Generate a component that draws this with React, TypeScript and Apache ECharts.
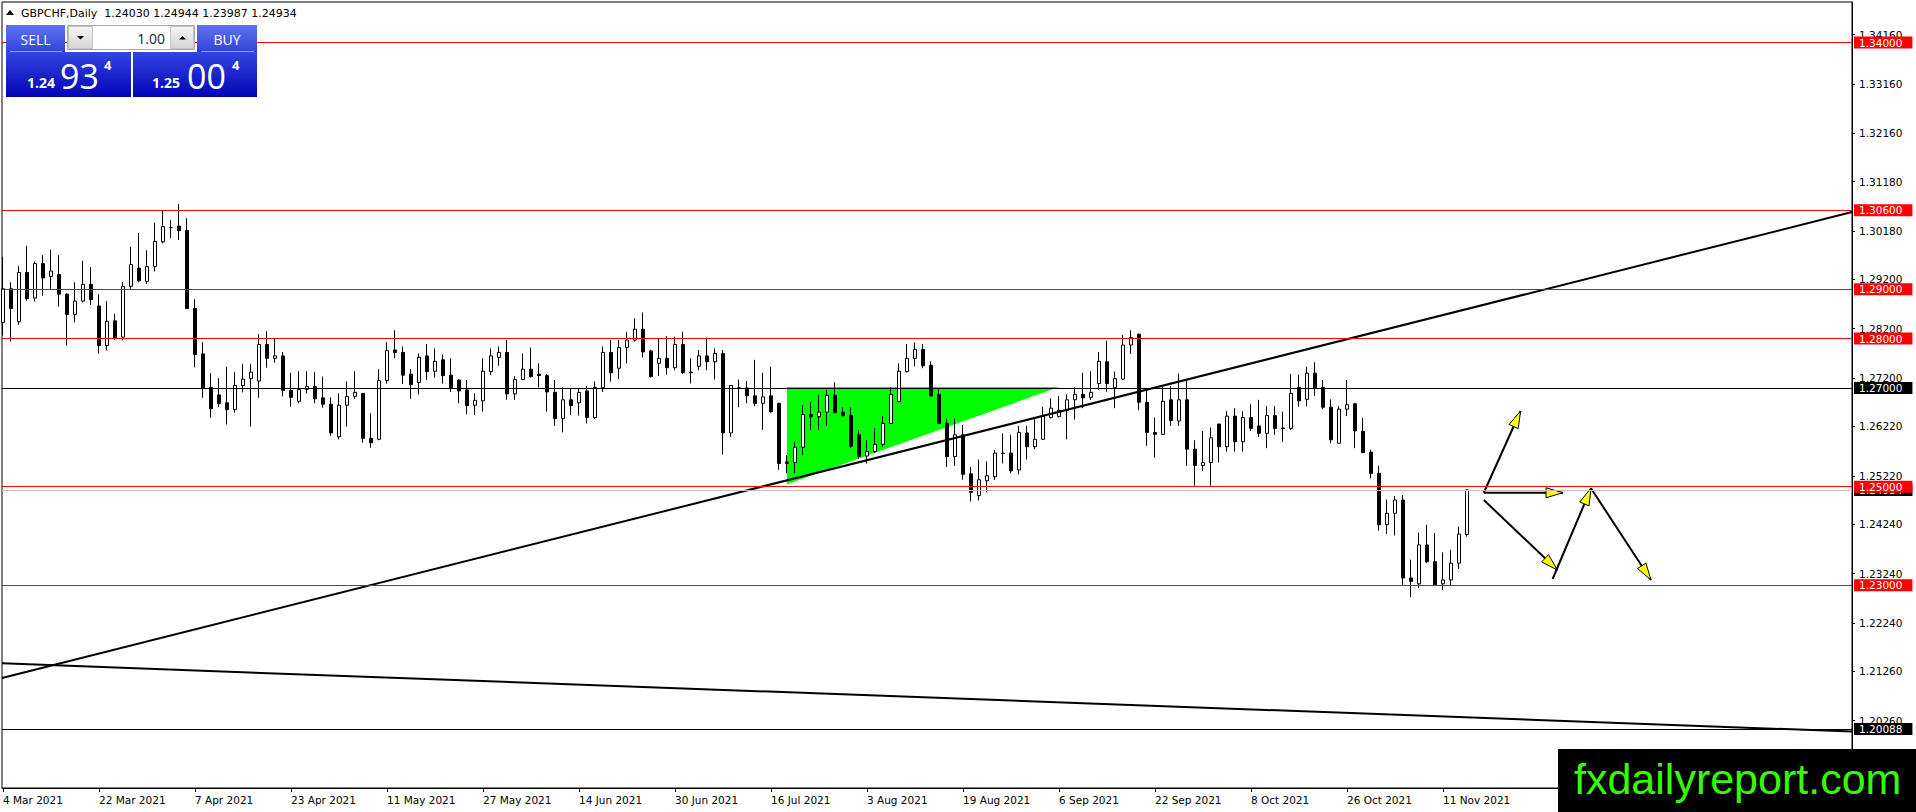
import React, { useEffect, useRef } from "react";
import * as echarts from "echarts";

// ---- candle values (bar 0 = 4 Mar 2021, one bar per trading day) ----
const OPEN = [
  1.2833, 1.2901, 1.2834, 1.2934, 1.2882, 1.2952, 1.2926, 1.2930, 1.2890, 1.2849,
  1.2876, 1.2910, 1.2866, 1.2786, 1.2836, 1.2803, 1.2906, 1.2943, 1.2916, 1.2946,
  1.2996, 1.3025, 1.3028, 1.3019, 1.2861, 1.2769, 1.2701, 1.2686, 1.2670, 1.2656,
  1.2705, 1.2719, 1.2714, 1.2788, 1.2760, 1.2765, 1.2695, 1.2673, 1.2697, 1.2703,
  1.2680, 1.2667, 1.2601, 1.2665, 1.2683, 1.2689, 1.2598, 1.2596, 1.2715, 1.2777,
  1.2772, 1.2728, 1.2711, 1.2765, 1.2734, 1.2757, 1.2726, 1.2716, 1.2696, 1.2665,
  1.2674, 1.2733, 1.2762, 1.2772, 1.2688, 1.2717, 1.2738, 1.2728, 1.2725, 1.2691,
  1.2638, 1.2676, 1.2670, 1.2694, 1.2640, 1.2701, 1.2772, 1.2740, 1.2782, 1.2797,
  1.2819, 1.2775, 1.2750, 1.2760, 1.2741, 1.2788, 1.2732, 1.2744, 1.2765, 1.2753,
  1.2770, 1.2609, 1.2700, 1.2700, 1.2684, 1.2669, 1.2684, 1.2669, 1.2550, 1.2549,
  1.2580, 1.2646, 1.2642, 1.2651, 1.2685, 1.2651, 1.2644, 1.2605, 1.2562, 1.2571,
  1.2586, 1.2628, 1.2672, 1.2733, 1.2760, 1.2778, 1.2746, 1.2687, 1.2628, 1.2561,
  1.2605, 1.2526, 1.2482, 1.2512, 1.2520, 1.2568, 1.2568, 1.2534, 1.2609, 1.2581,
  1.2596, 1.2640, 1.2642, 1.2655, 1.2676, 1.2687, 1.2681, 1.2709, 1.2753, 1.2701,
  1.2718, 1.2787, 1.2809, 1.2671, 1.2610, 1.2606, 1.2676, 1.2633, 1.2676, 1.2576,
  1.2543, 1.2549, 1.2627, 1.2581, 1.2643, 1.2591, 1.2640, 1.2623, 1.2608, 1.2644,
  1.2619, 1.2618, 1.2701, 1.2677, 1.2730, 1.2701, 1.2661, 1.2588, 1.2657, 1.2668,
  1.2612, 1.2570, 1.2527, 1.2423, 1.2446, 1.2473, 1.2315, 1.2303, 1.2382, 1.2348,
  1.2303, 1.2311, 1.2345, 1.2403,
];
const CLOSE = [
  1.2901, 1.2861, 1.2934, 1.2881, 1.2952, 1.2923, 1.2937, 1.2890, 1.2849, 1.2876,
  1.2910, 1.2879, 1.2786, 1.2835, 1.2802, 1.2906, 1.2950, 1.2917, 1.2946, 1.2997,
  1.3027, 1.3025, 1.3019, 1.2861, 1.2768, 1.2699, 1.2658, 1.2668, 1.2656, 1.2705,
  1.2718, 1.2732, 1.2788, 1.2760, 1.2765, 1.2695, 1.2681, 1.2697, 1.2703, 1.2678,
  1.2667, 1.2609, 1.2665, 1.2683, 1.2691, 1.2598, 1.2589, 1.2715, 1.2776, 1.2772,
  1.2726, 1.2707, 1.2762, 1.2733, 1.2754, 1.2725, 1.2701, 1.2694, 1.2664, 1.2675,
  1.2734, 1.2765, 1.2772, 1.2688, 1.2717, 1.2738, 1.2723, 1.2725, 1.2692, 1.2638,
  1.2676, 1.2664, 1.2691, 1.2640, 1.2701, 1.2772, 1.2731, 1.2782, 1.2797, 1.2819,
  1.2773, 1.2723, 1.2760, 1.2741, 1.2788, 1.2731, 1.2731, 1.2765, 1.2753, 1.2770,
  1.2609, 1.2705, 1.2700, 1.2684, 1.2669, 1.2682, 1.2652, 1.2547, 1.2547, 1.2580,
  1.2646, 1.2642, 1.2651, 1.2685, 1.2650, 1.2644, 1.2582, 1.2561, 1.2571, 1.2586,
  1.2628, 1.2687, 1.2734, 1.2760, 1.2778, 1.2745, 1.2684, 1.2628, 1.2561, 1.2605,
  1.2525, 1.2488, 1.2514, 1.2522, 1.2568, 1.2567, 1.2532, 1.2610, 1.2581, 1.2596,
  1.2642, 1.2659, 1.2655, 1.2676, 1.2687, 1.2680, 1.2691, 1.2754, 1.2709, 1.2719,
  1.2787, 1.2802, 1.2671, 1.2610, 1.2606, 1.2673, 1.2634, 1.2676, 1.2576, 1.2543,
  1.2549, 1.2599, 1.2581, 1.2643, 1.2591, 1.2640, 1.2618, 1.2608, 1.2644, 1.2618,
  1.2618, 1.2689, 1.2674, 1.2730, 1.2699, 1.2661, 1.2595, 1.2657, 1.2666, 1.2613,
  1.2569, 1.2527, 1.2423, 1.2446, 1.2473, 1.2315, 1.2308, 1.2382, 1.2348, 1.2301,
  1.2311, 1.2345, 1.2404, 1.24934,
];
const LOW = [
  1.2806, 1.2794, 1.2828, 1.2877, 1.2875, 1.2887, 1.2901, 1.2865, 1.2786, 1.2833,
  1.2873, 1.2868, 1.2770, 1.2776, 1.2797, 1.2796, 1.2901, 1.2915, 1.2911, 1.2936,
  1.2993, 1.3004, 1.3000, 1.2860, 1.2742, 1.2680, 1.2640, 1.2661, 1.2626, 1.2650,
  1.2691, 1.2622, 1.2680, 1.2741, 1.2751, 1.2683, 1.2662, 1.2669, 1.2689, 1.2669,
  1.2660, 1.2603, 1.2596, 1.2622, 1.2678, 1.2589, 1.2579, 1.2594, 1.2709, 1.2760,
  1.2708, 1.2678, 1.2687, 1.2716, 1.2721, 1.2709, 1.2692, 1.2669, 1.2647, 1.2645,
  1.2652, 1.2726, 1.2745, 1.2676, 1.2676, 1.2716, 1.2721, 1.2701, 1.2652, 1.2623,
  1.2610, 1.2645, 1.2644, 1.2628, 1.2637, 1.2692, 1.2713, 1.2718, 1.2750, 1.2794,
  1.2762, 1.2721, 1.2724, 1.2727, 1.2736, 1.2728, 1.2709, 1.2736, 1.2736, 1.2717,
  1.2565, 1.2601, 1.2661, 1.2669, 1.2663, 1.2615, 1.2650, 1.2534, 1.2527, 1.2527,
  1.2564, 1.2615, 1.2615, 1.2623, 1.2649, 1.2642, 1.2578, 1.2557, 1.2547, 1.2568,
  1.2581, 1.2627, 1.2672, 1.2731, 1.2744, 1.2740, 1.2682, 1.2627, 1.2540, 1.2542,
  1.2514, 1.2470, 1.2472, 1.2488, 1.2514, 1.2547, 1.2527, 1.2525, 1.2555, 1.2576,
  1.2595, 1.2638, 1.2640, 1.2596, 1.2636, 1.2659, 1.2676, 1.2696, 1.2692, 1.2659,
  1.2716, 1.2769, 1.2655, 1.2583, 1.2559, 1.2605, 1.2623, 1.2623, 1.2542, 1.2502,
  1.2532, 1.2502, 1.2549, 1.2571, 1.2571, 1.2571, 1.2613, 1.2601, 1.2578, 1.2605,
  1.2591, 1.2615, 1.2662, 1.2663, 1.2684, 1.2657, 1.2588, 1.2588, 1.2643, 1.2578,
  1.2568, 1.2517, 1.2411, 1.2404, 1.2401, 1.2301, 1.2276, 1.2294, 1.2345, 1.2300,
  1.2291, 1.2300, 1.2333, 1.23987,
];
const HIGH = [
  1.2966, 1.2914, 1.2947, 1.2988, 1.2956, 1.2969, 1.2980, 1.2969, 1.2892, 1.2914,
  1.2958, 1.2945, 1.2890, 1.2876, 1.2850, 1.2915, 1.2986, 1.3014, 1.2979, 1.3035,
  1.3060, 1.3040, 1.3073, 1.3044, 1.2880, 1.2793, 1.2730, 1.2720, 1.2743, 1.2732,
  1.2749, 1.2749, 1.2809, 1.2815, 1.2800, 1.2773, 1.2731, 1.2734, 1.2734, 1.2732,
  1.2723, 1.2681, 1.2689, 1.2713, 1.2734, 1.2690, 1.2649, 1.2738, 1.2793, 1.2817,
  1.2784, 1.2738, 1.2770, 1.2789, 1.2780, 1.2768, 1.2760, 1.2718, 1.2716, 1.2689,
  1.2760, 1.2780, 1.2784, 1.2797, 1.2724, 1.2770, 1.2782, 1.2750, 1.2728, 1.2716,
  1.2701, 1.2699, 1.2699, 1.2704, 1.2713, 1.2784, 1.2797, 1.2797, 1.2813, 1.2841,
  1.2853, 1.2777, 1.2800, 1.2805, 1.2804, 1.2814, 1.2760, 1.2777, 1.2802, 1.2780,
  1.2777, 1.2706, 1.2717, 1.2714, 1.2757, 1.2731, 1.2743, 1.2670, 1.2564, 1.2591,
  1.2665, 1.2672, 1.2686, 1.2696, 1.2711, 1.2661, 1.2661, 1.2615, 1.2594, 1.2618,
  1.2643, 1.2701, 1.2750, 1.2789, 1.2792, 1.2789, 1.2754, 1.2699, 1.2638, 1.2638,
  1.2625, 1.2540, 1.2555, 1.2551, 1.2574, 1.2608, 1.2605, 1.2623, 1.2623, 1.2640,
  1.2662, 1.2679, 1.2684, 1.2687, 1.2701, 1.2731, 1.2734, 1.2773, 1.2796, 1.2733,
  1.2807, 1.2817, 1.2810, 1.2696, 1.2640, 1.2704, 1.2704, 1.2729, 1.2717, 1.2594,
  1.2613, 1.2620, 1.2627, 1.2653, 1.2659, 1.2653, 1.2667, 1.2676, 1.2663, 1.2663,
  1.2652, 1.2728, 1.2727, 1.2743, 1.2752, 1.2716, 1.2677, 1.2663, 1.2716, 1.2669,
  1.2639, 1.2575, 1.2542, 1.2474, 1.2481, 1.2483, 1.2352, 1.2407, 1.2423, 1.2406,
  1.2367, 1.2372, 1.2419, 1.24944,
];

// ---- axes ----
const X_TICK_INDEX = [0, 12, 24, 36, 48, 60, 72, 84, 96, 108, 120, 132, 144, 156, 168, 180];
const X_TICK_LABELS = [
  "4 Mar 2021", "22 Mar 2021", "7 Apr 2021", "23 Apr 2021", "11 May 2021", "27 May 2021",
  "14 Jun 2021", "30 Jun 2021", "16 Jul 2021", "3 Aug 2021", "19 Aug 2021", "6 Sep 2021",
  "22 Sep 2021", "8 Oct 2021", "26 Oct 2021", "11 Nov 2021",
];
const Y_TICKS = [
  1.3416, 1.3316, 1.3216, 1.3118, 1.3018, 1.292, 1.282, 1.272, 1.2622, 1.2522,
  1.2424, 1.2324, 1.2224, 1.2126, 1.2026,
];
const X_MIN = -0.125;
const X_MAX = 231.125;
const Y_MIN = 1.18894;
const Y_MAX = 1.34821;

// ---- levels & drawings (bar index, price) ----
const RED_LEVELS = [1.34, 1.306, 1.29, 1.28, 1.25, 1.23];
const BLACK_LEVELS = [1.27, 1.20088];
const BID = 1.24934;
const TRENDLINES = [
  [[-0.125, 1.21122], [231.125, 1.30565]],
  [[-0.125, 1.2142], [231.125, 1.20038]],
];
const TRIANGLE = [[98, 1.2702], [132, 1.2702], [98, 1.2505]];
const ARROWS = [
  [[185.1, 1.24877], [189.7, 1.26533]],
  [[185.1, 1.24877], [195.0, 1.24877]],
  [[185.1, 1.2473], [194.3, 1.23311]],
  [[193.7, 1.23129], [198.5, 1.24967]],
  [[198.5, 1.24967], [206.0, 1.23108]],
];
const TITLE = "GBPCHF,Daily  1.24030 1.24944 1.23987 1.24934";
const WATERMARK = "fxdailyreport.com";

const AXIS_FONT = { fontFamily: "DejaVu Sans", fontSize: 10.5, color: "#000" };

function arrowHead(p0: number[], p1: number[], len: number, half: number) {
  const dx = p1[0] - p0[0];
  const dy = p1[1] - p0[1];
  const L = Math.hypot(dx, dy) || 1;
  const ux = dx / L;
  const uy = dy / L;
  const bx = p1[0] - ux * len;
  const by = p1[1] - uy * len;
  return [
    [p1[0], p1[1]],
    [bx - uy * half, by + ux * half],
    [bx + uy * half, by - ux * half],
  ];
}

function txt(text: string, x: number, y: number, fontSize: number, o: any = {}) {
  const align = o.align || "left";
  return {
    type: "text",
    z: 100,
    silent: true,
    x,
    y,
    style: {
      text,
      fill: o.color || "#fff",
      fontSize,
      fontFamily: o.family || "Open Sans",
      fontWeight: o.weight || "normal",
      align,
      textAlign: align,
      verticalAlign: "middle",
      textVerticalAlign: "middle",
    },
  };
}

function panel() {
  const G = echarts.graphic;
  const btn = () =>
    new G.LinearGradient(0, 0, 0, 1, [
      { offset: 0, color: "#6174f2" },
      { offset: 1, color: "#2f43d8" },
    ]);
  const box = () =>
    new G.LinearGradient(0, 0, 0, 1, [
      { offset: 0, color: "#3345e2" },
      { offset: 1, color: "#0404b4" },
    ]);
  const grey = () =>
    new G.LinearGradient(0, 0, 0, 1, [
      { offset: 0, color: "#f6f6f6" },
      { offset: 1, color: "#d4d4d4" },
    ]);
  const r = (x: number, y: number, w: number, h: number, style: any) => ({
    type: "rect",
    z: 100,
    silent: true,
    shape: { x, y, width: w, height: h },
    style,
  });
  const ln = (x1: number, y1: number, x2: number, y2: number, stroke: string) => ({
    type: "line",
    z: 100,
    silent: true,
    shape: { x1, y1, x2, y2 },
    style: { stroke, lineWidth: 1 },
  });
  const poly = (points: number[][], fill: string) => ({
    type: "polygon",
    z: 100,
    silent: true,
    shape: { points },
    style: { fill },
  });
  return [
    // title
    poly([[6, 15], [14, 15], [10, 10]], "#000"),
    txt(TITLE, 21, 13, 11, { color: "#000", family: "DejaVu Sans" }),
    // SELL button
    r(6, 25, 59, 27, { fill: btn() }),
    ln(10, 51.5, 62, 51.5, "#93a2f6"),
    txt("SELL", 35.5, 39, 14, { align: "center" }),
    // lot spinner
    r(67.5, 25.5, 127, 24, { fill: "#fff", stroke: "#a8a8a8", lineWidth: 1 }),
    r(68.5, 26.5, 24, 22, { fill: grey(), stroke: "#c4c4c4", lineWidth: 1 }),
    r(170.5, 26.5, 23, 22, { fill: grey(), stroke: "#c4c4c4", lineWidth: 1 }),
    poly([[77, 36], [84, 36], [80.5, 39.5]], "#000"),
    poly([[179, 39.5], [186, 39.5], [182.5, 36]], "#000"),
    txt("1.00", 165, 38, 14, { align: "right", color: "#222" }),
    // BUY button
    r(197, 25, 60, 27, { fill: btn() }),
    ln(201, 51.5, 254, 51.5, "#93a2f6"),
    txt("BUY", 227, 39, 14, { align: "center" }),
    // price boxes
    r(6, 52, 125, 45, { fill: box() }),
    r(133, 52, 124, 45, { fill: box() }),
    txt("1.24", 27, 82.5, 14, { weight: "bold" }),
    txt("93", 60, 75.5, 34),
    txt("4", 104, 64.5, 13, { weight: "bold" }),
    txt("1.25", 152, 82.5, 14, { weight: "bold" }),
    txt("00", 187, 75.5, 34),
    txt("4", 232, 64.5, 13, { weight: "bold" }),
    // watermark
    r(1558, 749, 358, 63, { fill: "#000" }),
    txt(WATERMARK, 1574, 779, 43, { color: "#33ff00", family: "Liberation Sans" }),
  ];
}

export default function App() {
  const ref = useRef<HTMLDivElement>(null);

  useEffect(() => {
    if (!ref.current) return;
    const chart = echarts.init(ref.current, null, { renderer: "svg", width: 1916, height: 812 });

    const candles = OPEN.map((o, i) => [i, o, CLOSE[i], LOW[i], HIGH[i]]);

    const levelData: any[] = [
      { yAxis: BID, name: BID.toFixed(5), lineStyle: { color: "#c0c0c0" }, label: { backgroundColor: "#000" } },
      ...BLACK_LEVELS.map((v) => ({
        yAxis: v,
        name: v.toFixed(5),
        lineStyle: { color: "#000" },
        label: { backgroundColor: "#000" },
      })),
      ...RED_LEVELS.map((v) => ({
        yAxis: v,
        name: v.toFixed(5),
        lineStyle: { color: "#ff0000" },
        label: { backgroundColor: "#ff0000" },
      })),
    ];

    const option: any = {
      animation: false,
      backgroundColor: "#fff",
      grid: {
        left: 2,
        right: 64,
        top: 2,
        bottom: 24,
        show: true,
        borderColor: "#000",
        borderWidth: 1,
        backgroundColor: "transparent",
      },
      xAxis: {
        type: "value",
        min: X_MIN,
        max: X_MAX,
        axisLine: { show: true, onZero: false, lineStyle: { color: "#000", width: 1 } },
        axisTick: { show: true, customValues: X_TICK_INDEX, length: 4, lineStyle: { color: "#000" } },
        axisLabel: {
          show: true,
          customValues: X_TICK_INDEX,
          formatter: (v: number) => {
            const k = X_TICK_INDEX.indexOf(Math.round(v));
            return k >= 0 ? X_TICK_LABELS[k] : "";
          },
          align: "left",
          margin: 6,
          ...AXIS_FONT,
        },
        splitLine: { show: false },
      },
      yAxis: {
        type: "value",
        position: "right",
        min: Y_MIN,
        max: Y_MAX,
        axisLine: { show: true, onZero: false, lineStyle: { color: "#000", width: 1 } },
        axisTick: { show: true, customValues: Y_TICKS, length: 3, lineStyle: { color: "#000" } },
        axisLabel: {
          show: true,
          customValues: Y_TICKS,
          formatter: (v: number) => Number(v).toFixed(5),
          margin: 7,
          ...AXIS_FONT,
        },
        splitLine: { show: false },
      },
      series: [
        {
          type: "custom",
          name: "triangle",
          z: 1,
          silent: true,
          data: [[TRIANGLE[0][0], TRIANGLE[0][1]]],
          renderItem: (_p: any, api: any) => ({
            type: "polygon",
            shape: { points: TRIANGLE.map((pt) => api.coord(pt)) },
            style: { fill: "#00ff00" },
          }),
        },
        {
          type: "candlestick",
          name: "GBPCHF",
          z: 2,
          silent: true,
          barWidth: 4,
          data: candles,
          itemStyle: {
            color: "#ffffff",
            color0: "#000000",
            borderColor: "#000000",
            borderColor0: "#000000",
            borderColorDoji: "#000000",
            borderWidth: 1,
          },
        },
        {
          type: "custom",
          name: "drawings",
          z: 3,
          silent: true,
          data: [[0, 1.25]],
          renderItem: (_p: any, api: any) => {
            const children: any[] = [];
            TRENDLINES.forEach(([a, b]) => {
              const pa = api.coord(a);
              const pb = api.coord(b);
              children.push({
                type: "line",
                shape: { x1: pa[0], y1: pa[1], x2: pb[0], y2: pb[1] },
                style: { stroke: "#000", lineWidth: 2 },
              });
            });
            ARROWS.forEach(([a, b]) => {
              const pa = api.coord(a);
              const pb = api.coord(b);
              children.push({
                type: "line",
                shape: { x1: pa[0], y1: pa[1], x2: pb[0], y2: pb[1] },
                style: { stroke: "#000", lineWidth: 2 },
              });
              children.push({
                type: "polygon",
                shape: { points: arrowHead(pa, pb, 17, 5) },
                style: { fill: "#ffff00", stroke: "#000", lineWidth: 1 },
              });
            });
            return { type: "group", children };
          },
          markLine: {
            silent: true,
            animation: false,
            precision: 5,
            symbol: ["none", "none"],
            lineStyle: { type: "solid", width: 1 },
            label: {
              show: true,
              position: "end",
              distance: 2,
              formatter: (p: any) => p.name,
              color: "#fff",
              fontFamily: "DejaVu Sans",
              fontSize: 10.5,
              lineHeight: 11,
              padding: [1, 10, 0, 5],
            },
            emphasis: { disabled: true },
            data: levelData,
          },
        },
      ],
      graphic: { elements: panel() },
    };

    chart.setOption(option);
    return () => chart.dispose();
  }, []);

  return (
    <div
      ref={ref}
      style={{ position: "fixed", left: 0, top: 0, width: 1916, height: 812, background: "#fff" }}
    />
  );
}
